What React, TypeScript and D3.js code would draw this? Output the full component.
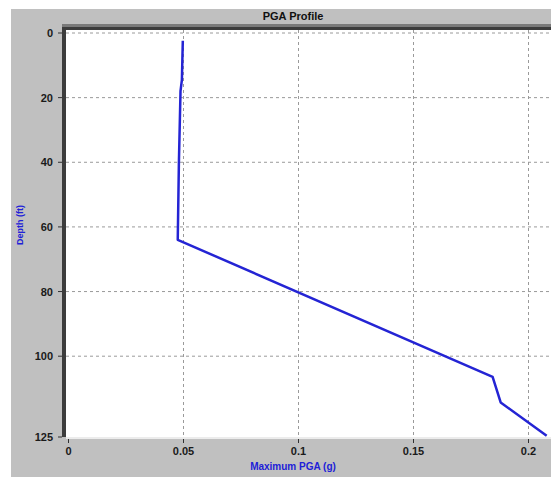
import React from "react";
import * as d3 from "d3";

const depthFt = [2.4, 14.5, 18, 40, 64, 106.4, 114.3, 124.6];
const maxPga = [0.0497, 0.0493, 0.0487, 0.048, 0.0475, 0.1844, 0.1879, 0.2079];
const xTicks = [0, 0.05, 0.1, 0.15, 0.2];
const xTickLabels = ["0", "0.05", "0.1", "0.15", "0.2"];
const yTicks = [0, 20, 40, 60, 80, 100, 125];
const yGrid = [0, 20, 40, 60, 80, 100];

const W = 551;
const H = 477;
const FONT = "'Liberation Sans', Arial, sans-serif";

export default function App() {
  const x = d3.scaleLinear().domain([0, 0.21]).range([68.5, 551.5]);
  const y = d3.scaleLinear().domain([0, 125]).range([33, 437]);
  const pts: [number, number][] = depthFt.map((d, i) => [maxPga[i], d]);
  const line = d3
    .line<[number, number]>()
    .x((p) => x(p[0]))
    .y((p) => y(p[1]));

  const plotL = 66;
  const plotT = 30;
  const plotB = 437;

  return (
    <svg
      width={W}
      height={H}
      style={{ position: "absolute", left: 0, top: 0, display: "block" }}
      fontFamily={FONT}
    >
      <rect x={0} y={0} width={W} height={H} fill="#ffffff" />
      <rect x={11} y={9} width={W - 11} height={H - 9} fill="#c0c0c0" />
      <text x={293} y={20} textAnchor="middle" fontSize={11} fontWeight="bold" fill="#101010">
        PGA Profile
      </text>
      {/* plot area */}
      <rect x={plotL} y={plotT} width={W - plotL} height={plotB - plotT} fill="#ffffff" />
      <defs>
        <clipPath id="plotclip">
          <rect x={plotL} y={plotT} width={W - plotL} height={plotB - plotT} />
        </clipPath>
      </defs>
      {/* grid */}
      {xTicks.slice(1).map((t) => (
        <line
          key={"gx" + t}
          x1={x(t)}
          x2={x(t)}
          y1={plotT}
          y2={plotB}
          stroke="#9a9a9a"
          strokeWidth={1}
          strokeDasharray="3,3"
        />
      ))}
      {yGrid.map((t) => (
        <line
          key={"gy" + t}
          x1={plotL}
          x2={W}
          y1={y(t)}
          y2={y(t)}
          stroke="#9a9a9a"
          strokeWidth={1}
          strokeDasharray="3,3"
        />
      ))}
      {/* borders */}
      <rect x={62} y={24} width={W - 62} height={3} fill="#7a7a7a" />
      <rect x={62} y={27} width={W - 62} height={3} fill="#3c3c3c" />
      <rect x={62} y={27} width={4} height={plotB - 27} fill="#3c3c3c" />
      <rect x={plotL} y={plotB} width={W - plotL} height={2} fill="#ececec" />
      {/* y ticks */}
      {yTicks.map((t) => (
        <g key={"yt" + t}>
          <line x1={58} x2={62} y1={y(t)} y2={y(t)} stroke="#303030" strokeWidth={1} />
          <text
            x={53}
            y={y(t) + 4}
            textAnchor="end"
            fontSize={11}
            fontWeight="bold"
            fill="#1a1a1a"
          >
            {t}
          </text>
        </g>
      ))}
      {/* x ticks */}
      {xTicks.map((t, i) => (
        <g key={"xt" + t}>
          <line x1={x(t)} x2={x(t)} y1={439} y2={443} stroke="#303030" strokeWidth={1} />
          <text
            x={x(t)}
            y={455}
            textAnchor="middle"
            fontSize={11}
            fontWeight="bold"
            fill="#1a1a1a"
          >
            {xTickLabels[i]}
          </text>
        </g>
      ))}
      <text x={293} y={470} textAnchor="middle" fontSize={10} fontWeight="bold" fill="#2020d8">
        Maximum PGA (g)
      </text>
      <text
        transform={`translate(23,225) rotate(-90)`}
        textAnchor="middle"
        fontSize={9}
        fontWeight="bold"
        fill="#2020d8"
      >
        Depth (ft)
      </text>
      {/* data line */}
      <path
        d={line(pts) || ""}
        fill="none"
        stroke="#2424d4"
        strokeWidth={2.5}
        strokeLinejoin="round"
        clipPath="url(#plotclip)"
      />
    </svg>
  );
}
